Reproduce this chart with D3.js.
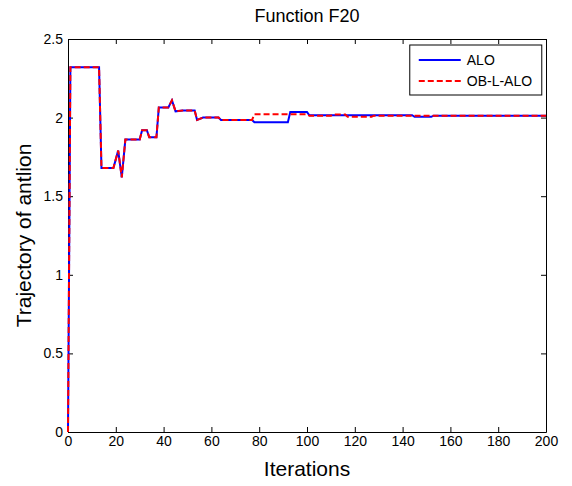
<!DOCTYPE html>
<html>
<head>
<meta charset="utf-8">
<script src="https://cdn.jsdelivr.net/npm/d3@7"></script>
<style>
  body { margin: 0; background: #fff; }
  text { font-family: Arial, "Liberation Sans", sans-serif; fill: #000; }
</style>
</head>
<body>
<div id="chart"></div>
<script>
// values (breakpoints of each trajectory)
const aloIter = [0, 1, 13, 14, 19, 21, 22.5, 24, 30, 31, 33, 34, 37, 38, 42, 43.5, 45, 48, 53, 54, 56.5, 63, 64, 77, 78, 92, 93, 100, 101, 144, 145, 152, 153, 200];
const aloVal  = [0, 2.32, 2.32, 1.68, 1.68, 1.79, 1.62, 1.86, 1.86, 1.92, 1.92, 1.875, 1.875, 2.065, 2.065, 2.11, 2.04, 2.045, 2.045, 1.985, 2.0, 2.0, 1.985, 1.985, 1.97, 1.97, 2.035, 2.035, 2.015, 2.015, 2.005, 2.005, 2.012, 2.012];

const oblIter = [0, 1, 13, 14, 19, 21, 22.5, 24, 30, 31, 33, 34, 37, 38, 42, 43.5, 45, 48, 53, 54, 56.5, 63, 64, 77, 78, 100, 101, 110, 111, 116, 117, 127, 128, 200];
const oblVal  = [0, 2.32, 2.32, 1.68, 1.68, 1.79, 1.62, 1.86, 1.86, 1.92, 1.92, 1.875, 1.875, 2.065, 2.065, 2.11, 2.04, 2.045, 2.045, 1.985, 2.0, 2.0, 1.985, 1.985, 2.022, 2.022, 2.012, 2.012, 2.02, 2.02, 2.005, 2.005, 2.012, 2.012];

const xTicks = [0, 20, 40, 60, 80, 100, 120, 140, 160, 180, 200];
const yTicks = [0, 0.5, 1, 1.5, 2, 2.5];
const seriesNames = ["ALO", "OB-L-ALO"];

// set the dimensions and margins of the graph
const margin = { top: 39, right: 26, bottom: 54, left: 68 };
const width = 572 - margin.left - margin.right;
const height = 486 - margin.top - margin.bottom;

const svgRoot = d3.select("#chart")
    .append("svg")
    .attr("width", 572)
    .attr("height", 486);

const svg = svgRoot.append("g")
    .attr("transform", `translate(${margin.left}, ${margin.top})`);

const x = d3.scaleLinear().domain([0, 200]).range([0, width]);
const y = d3.scaleLinear().domain([0, 2.5]).range([height, 0]);

// axes, MATLAB style: inward ticks on all four sides
svg.append("g")
    .attr("transform", `translate(0, ${height})`)
    .call(d3.axisBottom(x).tickValues(xTicks).tickSizeInner(-5).tickSizeOuter(0).tickPadding(4))
    .call(g => g.selectAll("text").attr("font-size", 14).attr("font-family", null));

svg.append("g")
    .call(d3.axisLeft(y).tickValues(yTicks).tickFormat(d3.format("")).tickSizeInner(-5).tickSizeOuter(0).tickPadding(5))
    .call(g => g.selectAll("text").attr("font-size", 14).attr("font-family", null));

svg.append("g")
    .call(d3.axisTop(x).tickValues(xTicks).tickSizeInner(-5).tickSizeOuter(0).tickFormat(""));

svg.append("g")
    .attr("transform", `translate(${width}, 0)`)
    .call(d3.axisRight(y).tickValues(yTicks).tickSizeInner(-5).tickSizeOuter(0).tickFormat(""));

svg.selectAll(".domain").attr("stroke", "#000");
svg.selectAll(".tick line").attr("stroke", "#000");

// lines
const line = d3.line()
    .x(d => x(d[0]))
    .y(d => y(d[1]));

svg.append("path")
    .datum(d3.zip(aloIter, aloVal))
    .attr("fill", "none")
    .attr("stroke", "#0000ff")
    .attr("stroke-width", 2)
    .attr("d", line);

svg.append("path")
    .datum(d3.zip(oblIter, oblVal))
    .attr("fill", "none")
    .attr("stroke", "#ff0000")
    .attr("stroke-width", 2)
    .attr("stroke-dasharray", "6,3")
    .attr("d", line);

// title and labels
svg.append("text")
    .attr("x", width / 2)
    .attr("y", -17)
    .attr("text-anchor", "middle")
    .attr("font-size", 18)
    .text("Function F20");

svg.append("text")
    .attr("x", width / 2)
    .attr("y", height + 44)
    .attr("text-anchor", "middle")
    .attr("font-size", 21)
    .text("Iterations");

svg.append("text")
    .attr("transform", `translate(${-37}, ${height / 2}) rotate(-90)`)
    .attr("text-anchor", "middle")
    .attr("font-size", 21)
    .text("Trajectory of antlion");

// legend
const legend = svg.append("g")
    .attr("transform", `translate(${x(143)}, 6)`);

legend.append("rect")
    .attr("width", 132)
    .attr("height", 50)
    .attr("fill", "#fff")
    .attr("stroke", "#000");

const legendColor = d3.scaleOrdinal().domain(seriesNames).range(["#0000ff", "#ff0000"]);

seriesNames.forEach((name, i) => {
    const yy = 15 + i * 21;
    legend.append("line")
        .attr("x1", 9).attr("x2", 51)
        .attr("y1", yy).attr("y2", yy)
        .attr("stroke", legendColor(name))
        .attr("stroke-width", 2)
        .attr("stroke-dasharray", i === 1 ? "6,3" : null);
    legend.append("text")
        .attr("x", 57)
        .attr("y", yy + 5)
        .attr("font-size", 14)
        .text(name);
});
</script>
</body>
</html>
